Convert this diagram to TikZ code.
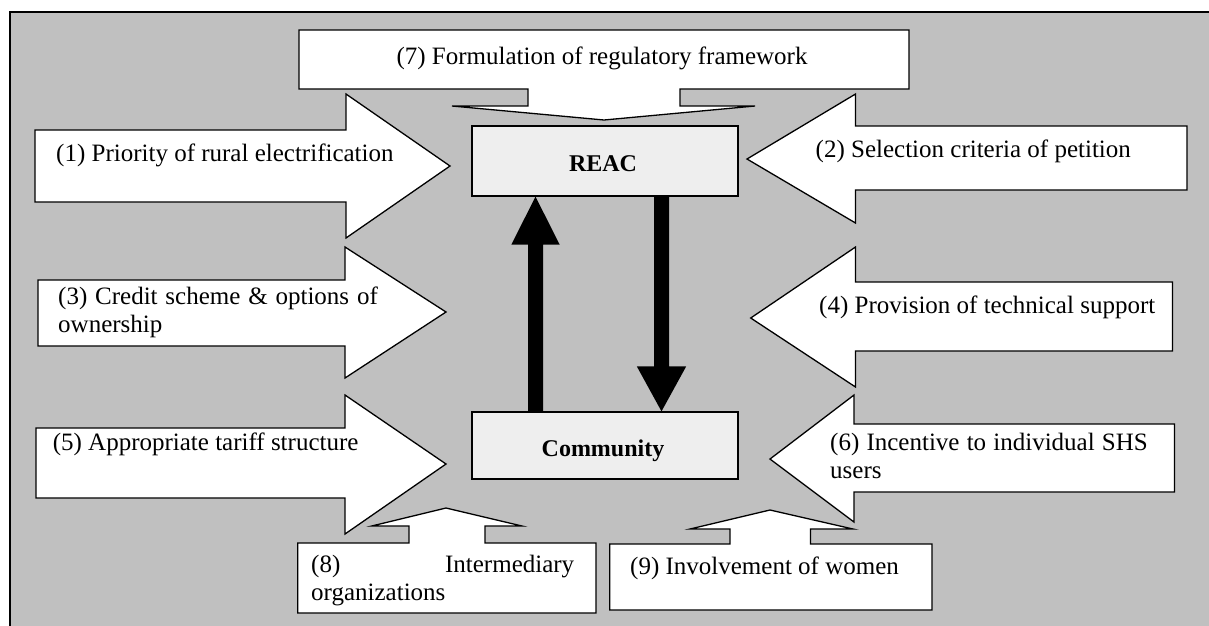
\documentclass[tikz,border=0pt]{standalone}
\usepackage{fontspec}
\setmainfont{Liberation Serif}
\usetikzlibrary{calc}
\definecolor{panelgray}{HTML}{C0C0C0}
\definecolor{boxgray}{HTML}{EEEEEE}
\newcommand{\twolines}[2]{\begin{tabular}[t]{@{}l@{}}#1\\#2\end{tabular}}
\begin{document}
\begin{tikzpicture}[x=1pt,y=-1pt,
  shapeline/.style={draw=black, fill=white, line width=1.3pt, line join=miter},
  actor/.style={draw=black, fill=boxgray, line width=1.3pt, inner sep=0pt},
  label/.style={inner sep=0pt, font=\fontsize{25}{27.5}\selectfont},
  actorlabel/.style={inner sep=0pt, font=\fontsize{24}{27}\selectfont\bfseries},
  flow/.style={fill=black}]

\useasboundingbox (0,0) rectangle (1209,625);
% panel
\fill[panelgray] (10,12) rectangle (1215,630);
\draw[line width=1.3pt] (10,630) -- (10,12) -- (1215,12);

% (7) callout pointing down to REAC
\draw[shapeline] (299,30) -- (909,30) -- (909,89) -- (680,89) -- (680,106) -- (755,106)
  -- (604,120) -- (452,106) -- (528,106) -- (528,89) -- (299,89) -- cycle;
\node[label, anchor=base] (t7) at (602,64.7) {(7) Formulation of regulatory framework};

% left block arrows
\draw[shapeline] (35,130) -- (346,130) -- (346,94) -- (450,166) -- (346,238) -- (346,202) -- (35,202) -- cycle;
\node[label, anchor=base west] (t1) at (56,161.5) {(1) Priority of rural electrification};

\draw[shapeline] (38,280) -- (345,280) -- (345,247) -- (446,312) -- (345,378) -- (345,346) -- (38,346) -- cycle;
\node[label, anchor=base west] (t3) at (58,304.5)
  {\twolines{\makebox[319.6pt][s]{(3) Credit scheme \& options of}}{ownership}};

\draw[shapeline] (36,428) -- (345,428) -- (345,395) -- (446,464) -- (345,534) -- (345,498) -- (36,498) -- cycle;
\node[label, anchor=base west] (t5) at (52.6,450.5) {(5) Appropriate tariff structure};

% right block arrows
\draw[shapeline] (1187,126) -- (855.5,126) -- (855.5,94) -- (747,159) -- (855.5,223) -- (855.5,190) -- (1187,190) -- cycle;
\node[label, anchor=base west] (t2) at (815.5,157.5) {(2) Selection criteria of petition};

\draw[shapeline] (1172.5,282) -- (855.5,282) -- (855.5,247) -- (750.7,318) -- (855.5,387) -- (855.5,351) -- (1172.5,351) -- cycle;
\node[label, anchor=base west] (t4) at (819,313.5) {(4) Provision of technical support};

\draw[shapeline] (1174.5,424) -- (854,424) -- (854,395) -- (770,459) -- (854,522) -- (854,492) -- (1174.5,492) -- cycle;
\node[label, anchor=base west] (t6) at (830,450.5)
  {\twolines{\makebox[317.6pt][s]{(6) Incentive to individual SHS}}{users}};

% bottom callouts pointing up
\draw[shapeline] (297.7,543) -- (409,543) -- (409,526) -- (371.7,526) -- (446,508) -- (522,526)
  -- (485,526) -- (485,543) -- (596,543) -- (596,613) -- (297.7,613) -- cycle;
\node[label, anchor=base west] (t8) at (311,572.5)
  {\twolines{\makebox[263pt]{(8)\hfill Intermediary}}{organizations}};

\draw[shapeline] (609.7,544) -- (730,544) -- (730,529) -- (690,529) -- (770,510) -- (853,529)
  -- (810.5,529) -- (810.5,544) -- (932,544) -- (932,610) -- (609.7,610) -- cycle;
\node[label, anchor=base west] (t9) at (630,574.5) {(9) Involvement of women};

% actors
\node[actor, minimum width=266pt, minimum height=70pt] (reac) at (605,161) {};
\node[actorlabel, anchor=base] (reaclabel) at ($(reac.center)+(-2,10)$) {REAC};
\node[actor, minimum width=266pt, minimum height=67pt] (comm) at (605,445.5) {};
\node[actorlabel, anchor=base] (commlabel) at ($(comm.center)+(-2,11)$) {Community};

% flows between the actors
\coordinate (upx) at (535.5,0);
\coordinate (dnx) at (661.5,0);
\fill[flow] ($(comm.north -| upx)+(-7.5,0)$) -- ($(reac.south -| upx)+(-7.5,48)$)
  -- ($(reac.south -| upx)+(-24.2,48)$) -- (reac.south -| upx)
  -- ($(reac.south -| upx)+(24.2,48)$) -- ($(reac.south -| upx)+(7.5,48)$)
  -- ($(comm.north -| upx)+(7.5,0)$) -- cycle;
\fill[flow] ($(reac.south -| dnx)+(-7.5,0)$) -- ($(comm.north -| dnx)+(-7.5,-45)$)
  -- ($(comm.north -| dnx)+(-24.7,-45)$) -- (comm.north -| dnx)
  -- ($(comm.north -| dnx)+(24.7,-45)$) -- ($(comm.north -| dnx)+(7.5,-45)$)
  -- ($(reac.south -| dnx)+(7.5,0)$) -- cycle;
\end{tikzpicture}
\end{document}
